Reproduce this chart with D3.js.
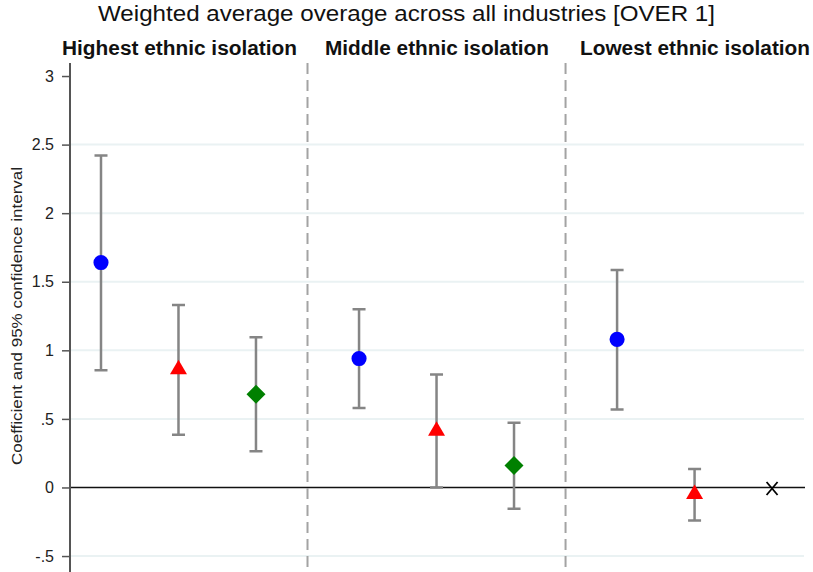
<!DOCTYPE html>
<html>
<head>
<meta charset="utf-8">
<script src="https://cdn.jsdelivr.net/npm/d3@7"></script>
<style>
  html, body { margin: 0; padding: 0; background: #fff; }
  svg { display: block; font-family: "Liberation Sans", Arial, sans-serif; }
</style>
</head>
<body>
<svg id="chart" width="813" height="572"></svg>
<script>
// Panels (ethnic isolation terciles) and the three estimates shown in each
const groups = ["Highest ethnic isolation", "Middle ethnic isolation", "Lowest ethnic isolation"];
const seriesNames = ["s1", "s2", "s3"];
const seriesColors = ["#0000ff", "#ff0000", "#008000"];
const seriesShapes = ["circle", "triangle", "diamond"];

// Point estimates per group (rows) and series (columns); null = omitted
const estimates = [
  [1.64, 0.87, 0.68],
  [0.94, 0.42, 0.16],
  [1.08, -0.04, null]
];
const ciLow = [
  [0.855, 0.385, 0.265],
  [0.58, 0.0, -0.155],
  [0.568, -0.24, null]
];
const ciHigh = [
  [2.42, 1.33, 1.095],
  [1.30, 0.823, 0.471],
  [1.585, 0.135, null]
];

const yTicks = [-0.5, 0, 0.5, 1, 1.5, 2, 2.5, 3];
const titleText = "Weighted average overage across all industries [OVER 1]";
const yLabel = "Coefficient and 95% confidence interval";

const svg = d3.select("#chart");
const plotLeft = 70, plotRight = 805, plotTop = 63, plotBottom = 572.5;

// slot index: group g, item i -> g * groupStride + i
const groupStride = 3.33;
const x = d3.scaleLinear().domain([-0.4, 9.085]).range([plotLeft, plotRight]);
const y = d3.scaleLinear().domain([-0.62, 3.095]).range([plotBottom, plotTop]);

// light horizontal grid
svg.append("g").selectAll("line")
  .data(yTicks.filter(t => t !== 0 && t !== 3))
  .join("line")
  .attr("x1", plotLeft).attr("x2", plotRight - 1)
  .attr("y1", d => y(d)).attr("y2", d => y(d))
  .attr("stroke", "#eaf2f3").attr("stroke-width", 2);

// zero reference line
svg.append("line")
  .attr("x1", plotLeft).attr("x2", plotRight)
  .attr("y1", y(0)).attr("y2", y(0))
  .attr("stroke", "#111").attr("stroke-width", 1.5);

// dashed separators midway between neighbouring panels
const sepPos = g => g * groupStride - (groupStride - 2) / 2;
svg.append("g").selectAll("line")
  .data([1, 2])
  .join("line")
  .attr("x1", g => x(sepPos(g))).attr("x2", g => x(sepPos(g)))
  .attr("y1", plotTop).attr("y2", plotBottom)
  .attr("stroke", "#a3a3a3").attr("stroke-width", 2)
  .attr("stroke-dasharray", "11,6");

// y axis
const yAxis = d3.axisLeft(y)
  .tickValues(yTicks)
  .tickSize(8)
  .tickPadding(8)
  .tickFormat(d => String(d).replace(/^0\./, ".").replace(/^-0\./, "-."));
const ax = svg.append("g").attr("transform", `translate(${plotLeft},0)`).call(yAxis);
ax.select(".domain").attr("stroke", "#555").attr("stroke-width", 2)
  .attr("d", `M0,${plotTop}V${plotBottom}`);
ax.selectAll(".tick line").attr("stroke", "#555").attr("stroke-width", 1.5);
ax.selectAll(".tick text").attr("font-size", 16).attr("fill", "#222")
  .attr("font-family", "Liberation Sans, Arial, sans-serif");

// y-axis title
svg.append("text")
  .attr("transform", `translate(22,316) rotate(-90)`)
  .attr("text-anchor", "middle")
  .attr("font-size", 15).attr("fill", "#222")
  .attr("textLength", 298).attr("lengthAdjust", "spacingAndGlyphs")
  .text(yLabel);

// chart title
svg.append("text")
  .attr("x", 406.5).attr("y", 20.5)
  .attr("text-anchor", "middle")
  .attr("font-size", 22.5).attr("fill", "#111")
  .attr("textLength", 617).attr("lengthAdjust", "spacingAndGlyphs")
  .text(titleText);

// panel headers
const headerWidth = [235, 224, 230];
const headerCenter = [179.5, 437, 695];
svg.append("g").selectAll("text")
  .data(groups)
  .join("text")
  .attr("x", (d, g) => headerCenter[g])
  .attr("y", 54.5)
  .attr("text-anchor", "middle")
  .attr("font-size", 19.5).attr("font-weight", "bold").attr("fill", "#111")
  .attr("textLength", (d, g) => headerWidth[g]).attr("lengthAdjust", "spacingAndGlyphs")
  .text(d => d);

// flatten observations
const obs = [];
groups.forEach((gName, g) => {
  seriesNames.forEach((s, i) => {
    obs.push({
      g, i,
      pos: g * groupStride + i,
      est: estimates[g][i],
      lo: ciLow[g][i],
      hi: ciHigh[g][i]
    });
  });
});

const withCI = obs.filter(d => d.est !== null);
const capHalf = 6.5;

// confidence intervals
const ci = svg.append("g").attr("stroke", "#858585").attr("stroke-width", 2.5).attr("fill", "none");
ci.selectAll("path")
  .data(withCI)
  .join("path")
  .attr("d", d => {
    const cx = x(d.pos), y0 = y(d.lo), y1 = y(d.hi);
    return `M${cx - capHalf},${y1}H${cx + capHalf}M${cx},${y1}V${y0}M${cx - capHalf},${y0}H${cx + capHalf}`;
  });

// markers
function shapePath(shape) {
  if (shape === "circle") return d3.symbol(d3.symbolCircle, 180)();
  if (shape === "triangle") return "M0,-8.5L8.5,6L-8.5,6Z";
  return "M0,-9.5L9.5,0L0,9.5L-9.5,0Z";
}
svg.append("g").selectAll("path")
  .data(withCI)
  .join("path")
  .attr("transform", d => `translate(${x(d.pos)},${y(d.est)})`)
  .attr("d", d => shapePath(seriesShapes[d.i]))
  .attr("fill", d => seriesColors[d.i]);

// omitted estimates shown as an X on the zero line
const omitted = obs.filter(d => d.est === null);
const xm = svg.append("g").attr("stroke", "#000").attr("stroke-width", 1.8);
omitted.forEach(d => {
  const cx = x(d.pos), cy = y(0) + 1, rx = 5.5, ry = 6.5;
  xm.append("line").attr("x1", cx - rx).attr("y1", cy - ry).attr("x2", cx + rx).attr("y2", cy + ry);
  xm.append("line").attr("x1", cx - rx).attr("y1", cy + ry).attr("x2", cx + rx).attr("y2", cy - ry);
});
</script>
</body>
</html>
